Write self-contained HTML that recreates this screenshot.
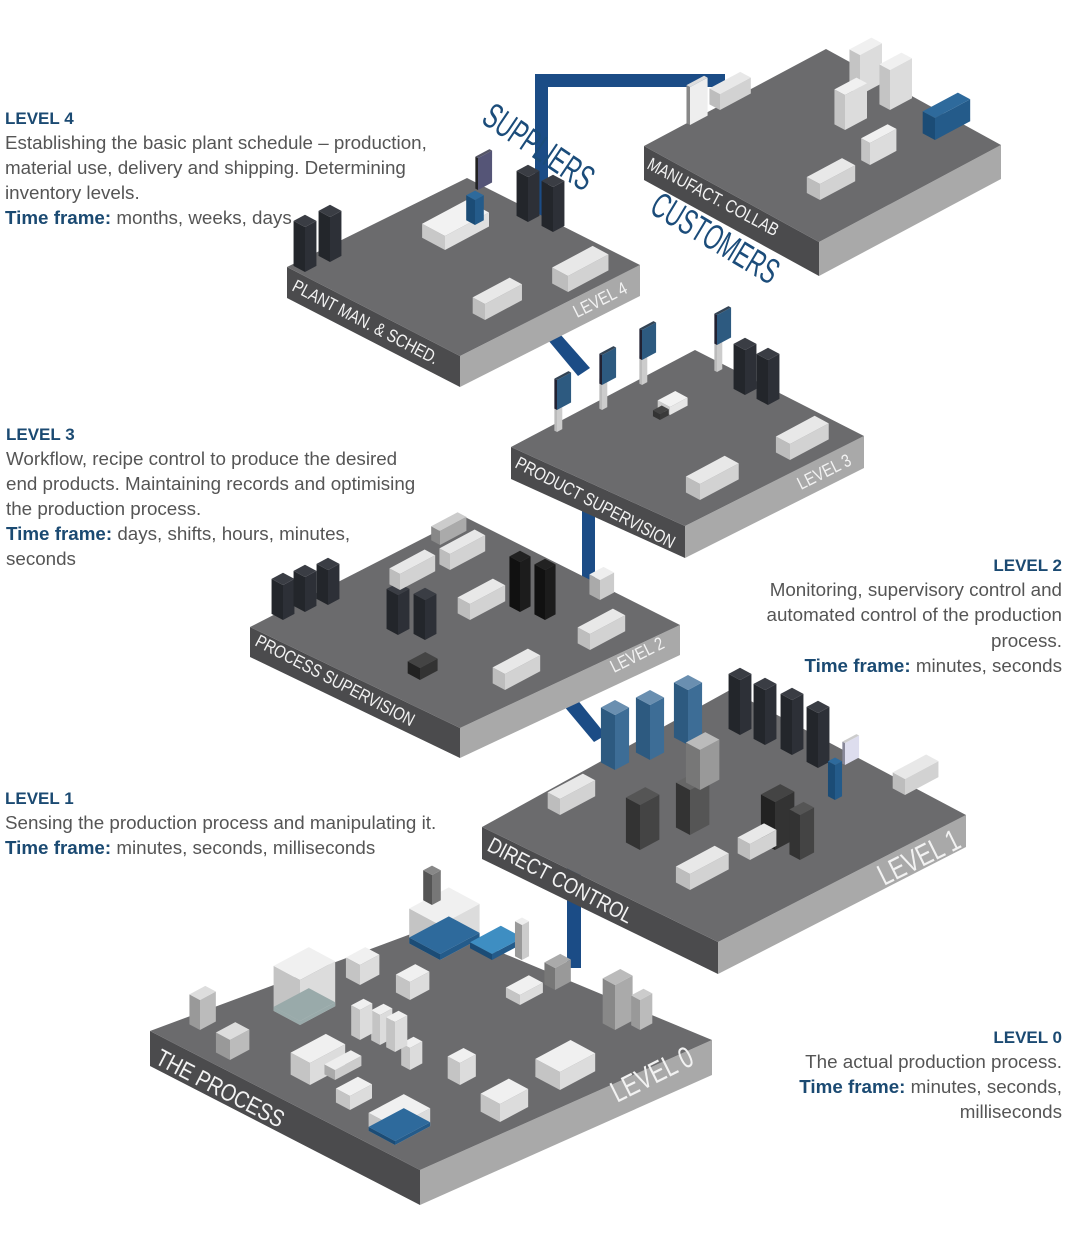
<!DOCTYPE html>
<html><head><meta charset="utf-8">
<style>
html,body{margin:0;padding:0;background:#fff;}
svg{display:block;}
.h{font-family:"Liberation Sans",sans-serif;font-weight:bold;font-size:17px;fill:#1b4a72;}
.t{font-family:"Liberation Sans",sans-serif;font-size:18.8px;fill:#555;}
.tb{font-weight:bold;fill:#1b4a72;}
.pl{font-family:"Liberation Sans",sans-serif;font-size:18px;fill:#f2f2f2;}
.bl{font-family:"Liberation Sans",sans-serif;font-size:36px;fill:#1b4c7a;}
</style></head><body>
<svg id="s" width="1066" height="1233" viewBox="0 0 1066 1233" xmlns="http://www.w3.org/2000/svg">
<g fill="#1b4c86">
<rect x="535" y="74" width="13" height="150"/>
<rect x="535" y="74" width="190" height="13"/>
<polygon points="548,340 560,334 590,368 578,376"/>
<rect x="582" y="505" width="13" height="80"/>
<polygon points="563,705 576,698 606,735 594,742"/>
<rect x="567" y="868" width="14" height="100"/>
</g>
<g id="plat"></g>
<g id="items"></g>
<text class="pl" transform="translate(291,290) rotate(27.5) scale(0.82,1)">PLANT MAN. &amp; SCHED.</text>
<text class="pl" transform="translate(577,318) rotate(-26.5) scale(0.82,1)">LEVEL 4</text>
<text class="pl" transform="translate(646,168) rotate(28) scale(0.82,1)">MANUFACT. COLLAB</text>
<text class="pl" transform="translate(514,467) rotate(27.5) scale(0.82,1)">PRODUCT SUPERVISION</text>
<text class="pl" transform="translate(801,490) rotate(-26.5) scale(0.82,1)">LEVEL 3</text>
<text class="pl" transform="translate(254,645) rotate(27.5) scale(0.82,1)">PROCESS SUPERVISION</text>
<text class="pl" transform="translate(614,673) rotate(-26.5) scale(0.82,1)">LEVEL 2</text>
<text class="pl" style="font-size:22px" transform="translate(486,850) rotate(27.5) scale(0.82,1)">DIRECT CONTROL</text>
<text class="pl" style="font-size:30px" transform="translate(884,886) rotate(-26.5) scale(0.75,1)">LEVEL 1</text>
<text class="pl" style="font-size:24px" transform="translate(154,1063) rotate(27.5) scale(0.82,1)">THE PROCESS</text>
<text class="pl" style="font-size:30px" transform="translate(617,1103) rotate(-26.5) scale(0.75,1)">LEVEL 0</text>
<text class="bl" transform="translate(480,122) rotate(34) scale(0.62,1)">SUPPLIERS</text>
<text class="bl" transform="translate(648,212) rotate(31) scale(0.62,1)">CUSTOMERS</text>
<text class="h" x="5" y="124">LEVEL 4</text>
<text class="t" x="5" y="149">Establishing the basic plant schedule – production,</text>
<text class="t" x="5" y="174">material use, delivery and shipping. Determining</text>
<text class="t" x="5" y="199">inventory levels.</text>
<text class="t" x="5" y="224"><tspan class="tb">Time frame:</tspan> months, weeks, days</text>

<text class="h" x="6" y="440">LEVEL 3</text>
<text class="t" x="6" y="465">Workflow, recipe control to produce the desired</text>
<text class="t" x="6" y="490">end products. Maintaining records and optimising</text>
<text class="t" x="6" y="515">the production process.</text>
<text class="t" x="6" y="540"><tspan class="tb">Time frame:</tspan> days, shifts, hours, minutes,</text>
<text class="t" x="6" y="565">seconds</text>

<g text-anchor="end">
<text class="h" x="1062" y="571">LEVEL 2</text>
<text class="t" x="1062" y="596">Monitoring, supervisory control and</text>
<text class="t" x="1062" y="621">automated control of the production</text>
<text class="t" x="1062" y="647">process.</text>
<text class="t" x="1062" y="672"><tspan class="tb">Time frame:</tspan> minutes, seconds</text>

<text class="h" x="1062" y="1043">LEVEL 0</text>
<text class="t" x="1062" y="1068">The actual production process.</text>
<text class="t" x="1062" y="1093"><tspan class="tb">Time frame:</tspan> minutes, seconds,</text>
<text class="t" x="1062" y="1118">milliseconds</text>
</g>
<text class="h" x="5" y="804">LEVEL 1</text>
<text class="t" x="5" y="829">Sensing the production process and manipulating it.</text>
<text class="t" x="5" y="854"><tspan class="tb">Time frame:</tspan> minutes, seconds, milliseconds</text>
</svg>
<script>
var NS="http://www.w3.org/2000/svg";
function poly(g,pts,fill){var p=document.createElementNS(NS,"polygon");p.setAttribute("points",pts.map(function(a){return a[0]+","+a[1]}).join(" "));p.setAttribute("fill",fill);g.appendChild(p);}
var plat=document.getElementById("plat"),items=document.getElementById("items");
function platform(L,T,R,B,h){
 poly(plat,[L,B,[B[0],B[1]+h],[L[0],L[1]+h]],"#4b4b4d");
 poly(plat,[B,R,[R[0],R[1]+h],[B[0],B[1]+h]],"#a9a9a9");
 poly(plat,[L,T,R,B],"#6b6b6d");
}
platform([644,146],[826,49],[1001,145],[819,242],34);
platform([287,267],[467,178],[640,265],[460,356],31);
platform([511,447],[695,350],[864,436],[685,526],32);
platform([250,627],[465,517],[680,625],[460,728],30);
platform([482,827],[730,690],[966,815],[718,942],32);
platform([150,1031],[435,925],[712,1040],[420,1170],35);
function box(x,y,a,b,h,top,left,right){
 var r=[a*0.88,-a*0.47],l=[-b*0.88,-b*0.47];
 var P=[x,y],PR=[x+r[0],y+r[1]],PL=[x+l[0],y+l[1]];
 poly(items,[P,PL,[PL[0],PL[1]-h],[x,y-h]],left);
 poly(items,[P,PR,[PR[0],PR[1]-h],[x,y-h]],right);
 poly(items,[[x,y-h],[PR[0],PR[1]-h],[PR[0]+l[0],PR[1]+l[1]-h],[PL[0],PL[1]-h]],top);
}
function rack(x,y,h){box(x,y,13,13,h||45,"#3a3d44","#23262b","#2d3037");}
function brack(x,y,h){box(x,y,16,16,h||45,"#6a8fb0","#2d5a80","#3d6d96");}
function desk(x,y,a,b){box(x,y,a||40,b||16,16,"#e8e8e8","#bdbdbd","#d2d2d2");}
function white(x,y,a,b,h){box(x,y,a,b,h,"#f0f0f0","#c4c4c4","#dcdcdc");}
function blue(x,y,a,b,h){box(x,y,a,b,h,"#2e6a9c","#1b4c76","#245b8a");}
// customers
white(860,95,25,12,40);white(890,110,25,12,40);white(845,130,25,12,35);
blue(935,140,40,14,22);desk(720,110,35,12);desk(820,200,40,15);white(870,165,30,10,22);
box(690,125,20,4,38,"#ddd","#888","#eee");
// level4
rack(305,272);rack(330,262);rack(528,222);rack(553,232);
box(445,250,50,26,14,"#f2f2f2","#c8c8c8","#e0e0e0");
desk(485,320,42,14);desk(568,292,46,18);
blue(475,225,10,10,25);
box(478,190,16,3,32,"#556","#222","#557");
// level3
rack(745,395);rack(768,405);desk(700,500,44,16);desk(790,460,44,16);
box(670,415,20,14,8,"#f2f2f2","#ccc","#e6e6e6");
box(557,432,6,3,22,"#ddd","#bbb","#ccc");box(557,410,16,3,30,"#345","#223","#2d5a80");
box(602,410,6,3,30,"#ddd","#bbb","#ccc");box(602,385,16,3,30,"#345","#223","#2d5a80");
box(642,385,6,3,28,"#ddd","#bbb","#ccc");box(642,360,16,3,30,"#345","#223","#2d5a80");
box(717,372,6,3,30,"#ddd","#bbb","#ccc");box(717,345,16,3,30,"#345","#223","#2d5a80");
box(660,420,10,8,6,"#444","#333","#3a3a3a");
// level2
rack(283,620,35);rack(305,612,35);rack(328,605,35);
box(520,612,12,12,50,"#222","#111","#1c1c1c");box(545,620,12,12,50,"#222","#111","#1c1c1c");
rack(398,635,40);rack(425,640,40);
desk(400,590,40,12);desk(450,570,40,12);desk(470,620,40,14);desk(505,690,40,14);desk(590,650,40,14);
box(440,545,30,10,14,"#ccc","#888","#aaa");box(600,600,16,12,20,"#eee","#aaa","#ccc");
box(420,680,20,14,12,"#444","#222","#333");
// level1
brack(615,770,55);brack(650,760,55);brack(688,745,55);
rack(740,735,55);rack(765,745,55);rack(792,755,55);rack(818,768,55);
box(640,850,22,16,45,"#555","#333","#444");box(690,835,22,16,45,"#666","#333","#555");
box(775,850,22,16,48,"#444","#222","#333");box(800,860,16,12,45,"#555","#333","#444");
box(700,790,22,16,40,"#bbb","#777","#999");
desk(560,815,40,14);desk(905,795,38,14);desk(690,890,44,16);desk(750,860,30,14);
blue(835,800,8,8,35);box(845,765,16,3,22,"#ccc","#889","#dde");
// level0
white(300,1025,40,30,45);box(300,1025,40,30,4,"#9aa","#9aa","#9aa");
white(440,960,45,35,35);blue(440,960,45,35,6);
white(360,985,22,16,20);white(410,1000,22,16,18);
box(492,960,35,25,6,"#3e8ec2","#1b4c76","#245b8a");
white(310,1085,40,22,22);white(350,1110,25,16,14);white(395,1145,40,30,18);blue(395,1145,40,30,4);
white(460,1085,18,14,22);white(500,1122,32,22,18);white(410,1070,14,10,22);
white(380,1045,14,10,30);white(395,1052,14,10,30);white(360,1040,14,10,30);
white(560,1090,40,28,18);white(520,1005,26,16,10);
box(230,1060,22,16,20,"#ddd","#999","#bbb");box(200,1030,18,12,30,"#ddd","#999","#bbb");
box(615,1030,20,14,45,"#bbb","#888","#aaa");box(640,1030,14,10,30,"#ccc","#999","#bbb");
box(432,905,10,10,30,"#888","#555","#777");box(522,960,8,8,35,"#eee","#999","#ccc");
box(555,990,18,12,22,"#aaa","#777","#999");box(335,1080,30,12,10,"#eee","#aaa","#ccc");
</script>
</body></html>
